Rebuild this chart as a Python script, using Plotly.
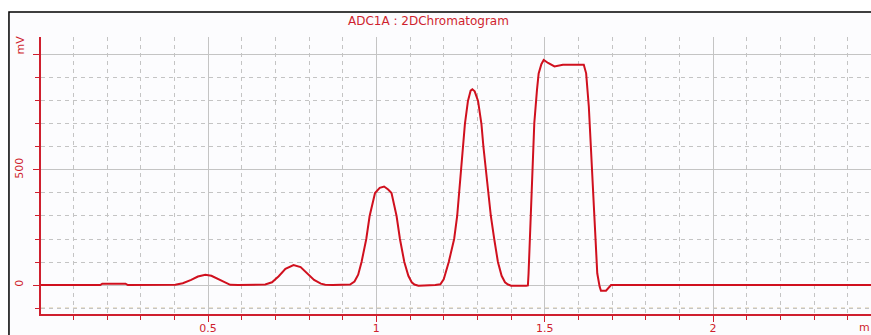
import plotly.graph_objects as go

# Retention time (min) and detector signal (mV)
time_min = [0.000, 0.180, 0.186, 0.255, 0.262, 0.380, 0.403, 0.425, 0.450, 0.470,
            0.492, 0.510, 0.530, 0.550, 0.566, 0.590, 0.650, 0.670, 0.690, 0.710,
            0.730, 0.754, 0.775, 0.795, 0.815, 0.835, 0.848, 0.870, 0.910, 0.922,
            0.935, 0.946, 0.956, 0.970, 0.980, 0.996, 1.010, 1.023, 1.035, 1.045,
            1.060, 1.070, 1.083, 1.095, 1.105, 1.113, 1.125, 1.160, 1.175, 1.190,
            1.200, 1.215, 1.231, 1.240, 1.246, 1.251, 1.257, 1.263, 1.272, 1.280,
            1.285, 1.292, 1.302, 1.312, 1.318, 1.325, 1.332, 1.340, 1.350, 1.361,
            1.372, 1.382, 1.391, 1.400, 1.445, 1.450, 1.452, 1.456, 1.460, 1.463,
            1.469, 1.477, 1.482, 1.490, 1.497, 1.510, 1.529, 1.554, 1.616, 1.623,
            1.631, 1.636, 1.640, 1.646, 1.651, 1.656, 1.663, 1.667, 1.682, 1.690,
            1.697, 2.470]
signal_mv = [0, 0, 6, 6, 0, 0, 1, 8, 22, 37,
             45, 40, 26, 10, 1, 0, 0, 2, 12, 38,
             70, 87, 78, 52, 22, 6, 1, 0, 0, 2,
             15, 45, 100, 200, 300, 400, 422, 428, 415, 400,
             300, 200, 100, 40, 12, 2, -3, -3, 0, 3,
             25, 100, 200, 300, 400, 500, 600, 700, 800, 845,
             851, 842, 800, 700, 600, 500, 400, 300, 200, 100,
             40, 12, 2, -3, -3, -2, 50, 196, 399, 500,
             703, 848, 920, 960, 978, 965, 950, 957, 957, 920,
             775, 630, 486, 340, 196, 51, -7, -25, -25, -10,
             0, 0]

x_tick_vals = [0.5, 1, 1.5, 2]
x_tick_text = ["0.5", "1", "1.5", "2"]
y_tick_vals = [0, 500, 1000]
y_tick_text = ["0", "500", ""]

title_text = "ADC1A : 2DChromatogram"
y_unit = "mV"
x_unit = "m"

RED = "#cf1f2e"
LINE_RED = "#d0101e"
GRID = "#c4c4c4"

fig = go.Figure()
fig.add_trace(go.Scatter(x=time_min, y=signal_mv, mode="lines",
                         line=dict(color=LINE_RED, width=2), hoverinfo="skip"))

fig.update_layout(
    width=871, height=335,
    margin=dict(l=41, r=0, t=37, b=21, autoexpand=False),
    paper_bgcolor="#ffffff",
    plot_bgcolor="#fdfcfe",
    showlegend=False,
    font=dict(family="DejaVu Sans", size=11, color=RED),
)

fig.update_xaxes(
    range=[0.004, 2.469],
    automargin=False,
    tickvals=x_tick_vals, ticktext=x_tick_text,
    ticks="outside", ticklen=6, tickcolor=RED, tickwidth=1,
    ticklabelstandoff=-3,
    showline=True, linecolor=RED, linewidth=1.5,
    showgrid=True, gridcolor=GRID, gridwidth=1,
    zeroline=False,
    tickfont=dict(size=11, color=RED),
    minor=dict(dtick=0.1, tick0=0, ticks="outside", ticklen=4, tickcolor=RED,
               showgrid=True, gridcolor=GRID, griddash="4px,4px", gridwidth=1),
)
fig.update_yaxes(
    range=[-126, 1078],
    automargin=False,
    tickvals=y_tick_vals, ticktext=y_tick_text,
    tickangle=-90,
    ticks="outside", ticklen=6, tickcolor=RED, tickwidth=1,
    ticklabelstandoff=6,
    showline=True, linecolor=RED, linewidth=1.5,
    showgrid=True, gridcolor=GRID, gridwidth=1,
    zeroline=False,
    tickfont=dict(size=11, color=RED),
    minor=dict(dtick=100, tick0=0, ticks="outside", ticklen=4, tickcolor=RED,
               showgrid=True, gridcolor=GRID, griddash="4px,4px", gridwidth=1),
)

# outer black frame of the chart window
fig.add_shape(type="rect", xref="paper", yref="paper",
              x0=-0.0386, x1=1.05, y0=-0.2, y1=1.090,
              line=dict(color="#000000", width=1.5), fillcolor="#fcfcfe", layer="below")
# tan dashed line at -100 mV
fig.add_shape(type="line", xref="paper", yref="y", x0=0, x1=1, y0=-100, y1=-100,
              line=dict(color="#d9c9a3", width=1, dash="4px,4px"), layer="below")

fig.add_annotation(text=title_text, xref="paper", yref="paper", x=0.467, y=1.058,
                   showarrow=False, font=dict(size=12, color=RED), xanchor="center", yanchor="middle")
fig.add_annotation(text=y_unit, xref="paper", yref="paper", x=-0.025, y=0.97,
                   showarrow=False, textangle=-90, font=dict(size=11, color=RED),
                   xanchor="center", yanchor="middle")
fig.add_annotation(text=x_unit, xref="paper", yref="paper", x=0.9835, y=-0.048,
                   showarrow=False, font=dict(size=11, color=RED),
                   xanchor="left", yanchor="middle")

fig.write_html("out.html", config={"displayModeBar": False},
               post_script="document.body.style.margin='0';document.body.style.overflow='hidden';")
